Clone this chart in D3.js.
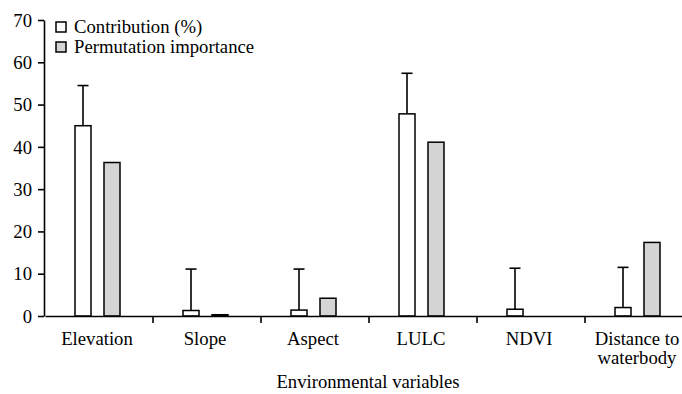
<html>
<head>
    <script type="text/javascript" src="https://cdnjs.cloudflare.com/ajax/libs/d3/7.8.5/d3.min.js"></script>
    <style>
        body { margin: 0; background: #fff; }
    </style>
</head>
<body>
    <div id="viz"></div>
    <script type="text/javascript">

    var categories = ["Elevation", "Slope", "Aspect", "LULC", "NDVI", "Distance to|waterbody"];
    var series = ["Contribution (%)", "Permutation importance"];
    var contribution = [45.0, 1.3, 1.4, 47.8, 1.6, 2.0];
    var contributionErr = [54.5, 11.1, 11.1, 57.4, 11.3, 11.5];
    var permutation = [36.3, 0.3, 4.2, 41.1, 0.0, 17.4];
    var yTicks = [0, 10, 20, 30, 40, 50, 60, 70];
    var fills = ["#ffffff", "#d4d4d4"];
    var serif = "'Liberation Serif', 'Times New Roman', serif";
    var fs = "18.7px";

    var svg = d3.select("#viz")
        .append("svg")
        .attr("width", 682)
        .attr("height", 394)
        .style("font-family", serif);

    var y = d3.scaleLinear().domain([0, 70]).range([316, 20]);
    var x = d3.scaleBand().domain(categories).range([45, 693]);
    var x1 = d3.scaleBand().domain(series).range([30, 75]).paddingInner(0.448);

    // y axis
    var yAxis = svg.append("g")
        .attr("transform", "translate(44,0)")
        .call(d3.axisLeft(y).tickValues(yTicks).tickSize(6).tickPadding(6).tickSizeOuter(0));
    yAxis.attr("font-family", null).attr("font-size", null);
    yAxis.select(".domain").attr("stroke-width", 1.6);
    yAxis.selectAll(".tick line").attr("stroke-width", 1.6);
    yAxis.selectAll("text").style("font-size", fs).style("font-family", serif).attr("dy", "0.33em");

    // bars
    var data = categories.map(function(c, i) {
        return { cat: c, vals: [contribution[i], permutation[i]], err: contributionErr[i] };
    });
    var groups = svg.selectAll(".grp").data(data).enter().append("g")
        .attr("transform", function(d) { return "translate(" + x(d.cat) + ",0)"; });

    // error bars (drawn up from contribution bar)
    groups.append("line")
        .attr("x1", x1(series[0]) + x1.bandwidth() / 2)
        .attr("x2", x1(series[0]) + x1.bandwidth() / 2)
        .attr("y1", function(d) { return y(d.vals[0]); })
        .attr("y2", function(d) { return y(d.err); })
        .attr("stroke", "#000").attr("stroke-width", 1.6);
    groups.append("line")
        .attr("x1", x1(series[0]) + x1.bandwidth() / 2 - 5.5)
        .attr("x2", x1(series[0]) + x1.bandwidth() / 2 + 5.5)
        .attr("y1", function(d) { return y(d.err); })
        .attr("y2", function(d) { return y(d.err); })
        .attr("stroke", "#000").attr("stroke-width", 1.6);

    groups.selectAll("rect").data(function(d) { return d.vals.map(function(v, j) { return { s: series[j], v: v, j: j }; }); })
        .enter().append("rect")
        .attr("x", function(d) { return x1(d.s); })
        .attr("width", x1.bandwidth())
        .attr("y", function(d) { return y(d.v); })
        .attr("height", function(d) { return y(0) - y(d.v); })
        .attr("fill", function(d) { return fills[d.j]; })
        .attr("stroke", "#000").attr("stroke-width", 1.5);

    // x axis
    var xAxis = svg.append("g")
        .attr("transform", "translate(0,316)")
        .call(d3.axisBottom(x).tickSize(0).tickFormat(""));
    xAxis.select(".domain").attr("stroke-width", 1.6);
    svg.selectAll(".xtick").data(categories.slice(1)).enter().append("line")
        .attr("x1", function(d) { return x(d); }).attr("x2", function(d) { return x(d); })
        .attr("y1", 316).attr("y2", 323)
        .attr("stroke", "#000").attr("stroke-width", 1.6);

    var labels = svg.selectAll(".xlab").data(categories).enter().append("text")
        .attr("text-anchor", "middle")
        .style("font-size", fs)
        .attr("transform", function(d) { return "translate(" + (x(d) + x.bandwidth() / 2 - 2) + ",345)"; });
    labels.selectAll("tspan").data(function(d) { return d.split("|"); }).enter().append("tspan")
        .attr("x", 0).attr("dy", function(d, i) { return i ? "1.04em" : 0; })
        .text(function(d) { return d; });

    svg.append("text")
        .attr("x", 368).attr("y", 388)
        .attr("text-anchor", "middle")
        .style("font-size", fs)
        .text("Environmental variables");

    // legend
    var legend = svg.selectAll(".leg").data(series).enter().append("g")
        .attr("transform", function(d, i) { return "translate(56," + (22 + i * 20) + ")"; });
    legend.append("rect")
        .attr("width", 10).attr("height", 10)
        .attr("fill", function(d, i) { return fills[i]; })
        .attr("stroke", "#000").attr("stroke-width", 1.5);
    legend.append("text")
        .attr("x", 18).attr("y", 10.5)
        .style("font-size", fs)
        .text(function(d) { return d; });

    </script>
</body>
</html>
